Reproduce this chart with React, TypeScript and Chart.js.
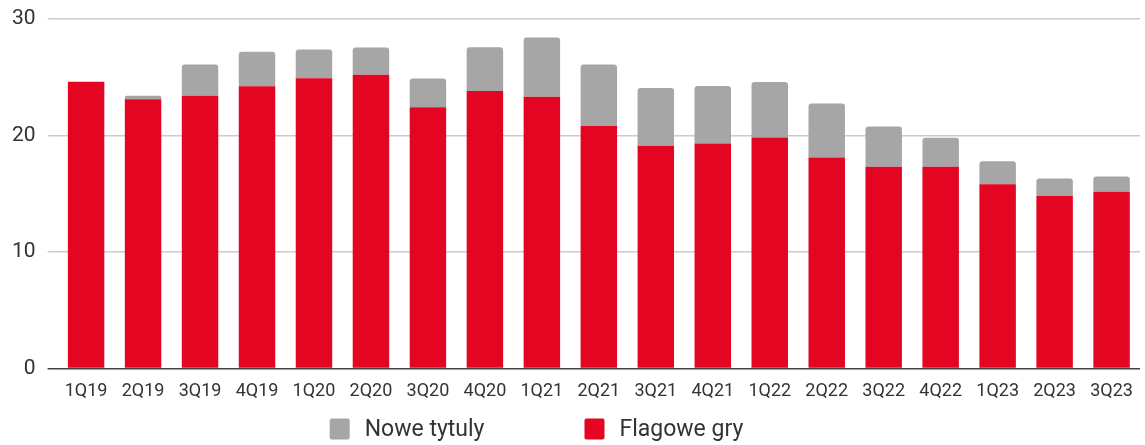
import React, { useEffect, useRef } from "react";
import { Chart, registerables } from "chart.js";

Chart.register(...registerables);

const categories = [
  "1Q19", "2Q19", "3Q19", "4Q19", "1Q20", "2Q20", "3Q20", "4Q20", "1Q21", "2Q21",
  "3Q21", "4Q21", "1Q22", "2Q22", "3Q22", "4Q22", "1Q23", "2Q23", "3Q23",
];

const flagoweGry = [
  24.6, 23.1, 23.4, 24.2, 24.9, 25.2, 22.4, 23.8, 23.3, 20.8,
  19.1, 19.3, 19.8, 18.1, 17.3, 17.3, 15.8, 14.8, 15.15,
];

const noweTytuly = [
  0, 0.3, 2.67, 2.97, 2.46, 2.33, 2.47, 3.75, 5.08, 5.27,
  4.95, 4.93, 4.78, 4.62, 3.45, 2.48, 1.98, 1.5, 1.32,
];

const yTicks = [0, 10, 20, 30];

const RED = "#E30521";
const GRAY = "#A6A6A6";
const TEXT = "#333333";

const legendPlugin = {
  id: "customLegend",
  afterDraw(chart: any) {
    const ctx = chart.ctx as CanvasRenderingContext2D;
    const items = [...chart.data.datasets].reverse();
    ctx.save();
    ctx.font = "23px Roboto";
    const boxW = 20;
    const boxH = 21;
    const gapText = 15;
    const gapItems = 100;
    const widths = items.map(
      (d: any) => boxW + gapText + ctx.measureText(d.label).width
    );
    const total =
      widths.reduce((a: number, b: number) => a + b, 0) +
      gapItems * (items.length - 1);
    const centerX = chart.width / 2 - 36;
    let x = centerX - total / 2;
    const y = 429;
    items.forEach((d: any, i: number) => {
      ctx.fillStyle = d.backgroundColor;
      ctx.beginPath();
      if ((ctx as any).roundRect) {
        (ctx as any).roundRect(x, y - boxH / 2, boxW, boxH, 2);
      } else {
        ctx.rect(x, y - boxH / 2, boxW, boxH);
      }
      ctx.fill();
      ctx.fillStyle = TEXT;
      ctx.textBaseline = "middle";
      ctx.textAlign = "left";
      ctx.fillText(d.label, x + boxW + gapText, y + 1);
      x += widths[i] + gapItems;
    });
    ctx.restore();
  },
};

export default function App() {
  const canvasRef = useRef<HTMLCanvasElement | null>(null);

  useEffect(() => {
    if (!canvasRef.current) return;
    Chart.defaults.font.family = "Roboto";
    const chart = new Chart(canvasRef.current, {
      type: "bar",
      data: {
        labels: categories,
        datasets: [
          {
            label: "Flagowe gry",
            data: flagoweGry,
            backgroundColor: RED,
            borderWidth: 0,
            borderRadius: 0,
            categoryPercentage: 1,
            barPercentage: 0.64,
          },
          {
            label: "Nowe tytuly",
            data: noweTytuly,
            backgroundColor: GRAY,
            borderWidth: 0,
            borderRadius: 3,
            borderSkipped: "bottom",
            categoryPercentage: 1,
            barPercentage: 0.64,
          },
        ],
      },
      options: {
        animation: false,
        responsive: true,
        maintainAspectRatio: false,
        layout: { padding: { left: 0, right: 2, top: 10, bottom: 31 } },
        plugins: {
          legend: { display: false },
          tooltip: { enabled: false },
        },
        scales: {
          x: {
            stacked: true,
            grid: { display: false, drawTicks: false },
            border: { display: false },
            ticks: {
              color: TEXT,
              font: { size: 18 },
              padding: 12,
              maxRotation: 0,
              autoSkip: false,
            },
          },
          y: {
            stacked: true,
            min: 0,
            max: 30,
            afterBuildTicks: (scale: any) => {
              scale.ticks = yTicks.map((v) => ({ value: v }));
            },
            grid: {
              color: (c: any) => (c.tick && c.tick.value === 0 ? "#444444" : "#CCCCCC"),
              lineWidth: 1.5,
              drawTicks: true,
              tickLength: 10,
            },
            border: { display: false },
            ticks: {
              color: TEXT,
              font: { size: 21, lineHeight: 0.64 },
              padding: 12,
            },
          },
        },
      },
      plugins: [legendPlugin],
    });
    return () => chart.destroy();
  }, []);

  return (
    <div style={{ position: "absolute", left: 0, top: 0, width: 1145, height: 445 }}>
      <canvas ref={canvasRef} />
    </div>
  );
}
